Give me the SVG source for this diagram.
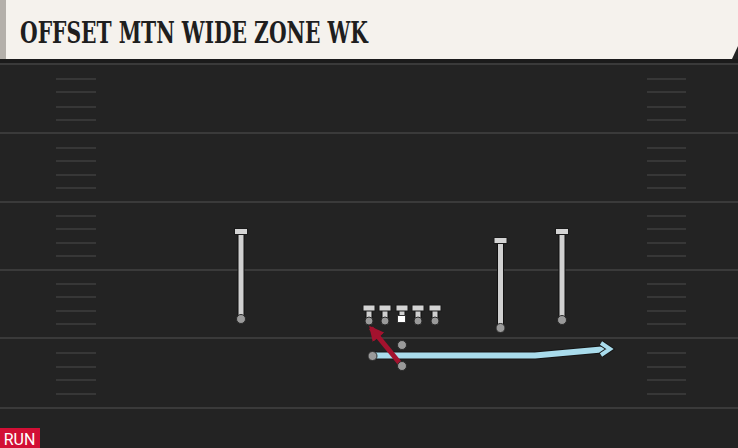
<svg xmlns="http://www.w3.org/2000/svg" width="738" height="448" viewBox="0 0 738 448">
<defs>
<style>
.yard{stroke:#3a3a3a;stroke-width:2}
.hash{stroke:#373737;stroke-width:2}
.stem{stroke:#d0d0d0;stroke-width:5;stroke-linecap:butt}
.stemo{stroke:#111;stroke-width:7}
.bar{fill:#d4d4d4;stroke:#1a1a1a;stroke-width:1}
.dot{fill:#9a9a9a;stroke:#2a2a2a;stroke-width:1}
.title{font-family:"DejaVu Serif Condensed","DejaVu Serif",serif;font-weight:bold;font-size:29px;fill:#1e1e1e}
</style>
<marker id="redhead" viewBox="0 0 10 10" refX="8" refY="5" markerWidth="3" markerHeight="3" orient="auto" markerUnits="strokeWidth">
<path d="M0,0 L10,5 L0,10 z" fill="#a3122e"/>
</marker>
</defs>
<rect x="0" y="0" width="738" height="448" fill="#232323"/>
<g id="header">
<rect x="0" y="0" width="6" height="59" fill="#b4b0aa"/>
<polygon points="6,0 738,0 738,46 732,59 6,59" fill="#f5f2ed"/>
<rect x="0" y="59" width="738" height="4" fill="#1b1b1b"/>
<text class="title" x="20" y="43" textLength="348" lengthAdjust="spacingAndGlyphs">OFFSET MTN WIDE ZONE WK</text>
</g>
<g id="field">
<line class="yard" x1="0" y1="64" x2="738" y2="64"/>
<line class="yard" x1="0" y1="133" x2="738" y2="133"/>
<line class="yard" x1="0" y1="202" x2="738" y2="202"/>
<line class="yard" x1="0" y1="270" x2="738" y2="270"/>
<line class="yard" x1="0" y1="338" x2="738" y2="338"/>
<line class="yard" x1="0" y1="408" x2="738" y2="408"/>
<g id="hashes-left">
<path class="hash" d="M56,79H96M56,92H96M56,107H96M56,120H96M56,148H96M56,161H96M56,175H96M56,188H96M56,216H96M56,229H96M56,243H96M56,256H96M56,284H96M56,297H96M56,311H96M56,324H96M56,353H96M56,367H96M56,380H96M56,394H96"/>
</g>
<g id="hashes-right">
<path class="hash" d="M647,79H686M647,92H686M647,107H686M647,120H686M647,148H686M647,161H686M647,175H686M647,188H686M647,216H686M647,229H686M647,243H686M647,256H686M647,284H686M647,297H686M647,311H686M647,324H686M647,353H686M647,367H686M647,380H686M647,394H686"/>
</g>
</g>
<g id="connectors">
<g id="route-blue">
<path d="M374,355.5 L535,355.5 L607,349" fill="none" stroke="#161616" stroke-width="8" stroke-linejoin="round"/>
<path d="M374,355.5 L535,355.5 L607,349" fill="none" stroke="#a9dcec" stroke-width="6" stroke-linejoin="round"/>
<path d="M601,343 L610,349 L601,355" fill="none" stroke="#161616" stroke-width="6" stroke-linejoin="miter"/>
<path d="M601,343 L610,349 L601,355" fill="none" stroke="#a9dcec" stroke-width="4" stroke-linejoin="miter"/>
</g>
<g id="route-red">
<line x1="402" y1="366" x2="371" y2="328" stroke="#a3122e" stroke-width="5" marker-end="url(#redhead)"/>
</g>
</g>
<g id="wr1">
<line class="stemo" x1="241" y1="233" x2="241" y2="318"/>
<line class="stem" x1="241" y1="233" x2="241" y2="318"/>
<rect class="bar" x="234.5" y="228.5" width="13" height="6"/>
<circle class="dot" cx="241" cy="319" r="4.5"/>
</g>
<g id="wr2">
<line class="stemo" x1="500.5" y1="242" x2="500.5" y2="327"/>
<line class="stem" x1="500.5" y1="242" x2="500.5" y2="327"/>
<rect class="bar" x="494" y="237.5" width="13" height="6"/>
<circle class="dot" cx="500.5" cy="328" r="4.5"/>
</g>
<g id="wr3">
<line class="stemo" x1="562" y1="233" x2="562" y2="319"/>
<line class="stem" x1="562" y1="233" x2="562" y2="319"/>
<rect class="bar" x="555.5" y="228.5" width="13" height="6"/>
<circle class="dot" cx="562" cy="320" r="4.5"/>
</g>
<g id="lt">
<line class="stemo" x1="369" y1="309" x2="369" y2="319"/>
<line class="stem" x1="369" y1="309" x2="369" y2="319"/>
<rect class="bar" x="363" y="305" width="12" height="6"/>
<circle class="dot" cx="369" cy="321" r="4"/>
</g>
<g id="lg">
<line class="stemo" x1="385" y1="309" x2="385" y2="319"/>
<line class="stem" x1="385" y1="309" x2="385" y2="319"/>
<rect class="bar" x="379" y="305" width="12" height="6"/>
<circle class="dot" cx="385" cy="321" r="4"/>
</g>
<g id="c">
<line class="stemo" x1="402" y1="309" x2="402" y2="316"/>
<line class="stem" x1="402" y1="309" x2="402" y2="316"/>
<rect class="bar" x="396" y="305" width="12" height="6"/>
<rect x="397.5" y="315.5" width="8" height="7" fill="#ffffff" stroke="#333" stroke-width="1"/>
</g>
<g id="rg">
<line class="stemo" x1="418" y1="309" x2="418" y2="319"/>
<line class="stem" x1="418" y1="309" x2="418" y2="319"/>
<rect class="bar" x="412" y="305" width="12" height="6"/>
<circle class="dot" cx="418" cy="321" r="4"/>
</g>
<g id="rt">
<line class="stemo" x1="435" y1="309" x2="435" y2="319"/>
<line class="stem" x1="435" y1="309" x2="435" y2="319"/>
<rect class="bar" x="429" y="305" width="12" height="6"/>
<circle class="dot" cx="435" cy="321" r="4"/>
</g>
<g id="qb">
<circle class="dot" cx="402" cy="345" r="4.5"/>
</g>
<g id="motion">
<circle class="dot" cx="372.5" cy="356" r="4.5"/>
</g>
<g id="rb">
<circle class="dot" cx="402" cy="366" r="4.5"/>
</g>
<g id="tag">
<rect x="0" y="428" width="40" height="20" fill="#d20f35"/>
<text x="19.5" y="445" text-anchor="middle" font-family="Roboto,'Liberation Sans',sans-serif" font-size="16" fill="#ffffff">RUN</text>
</g>
</svg>
